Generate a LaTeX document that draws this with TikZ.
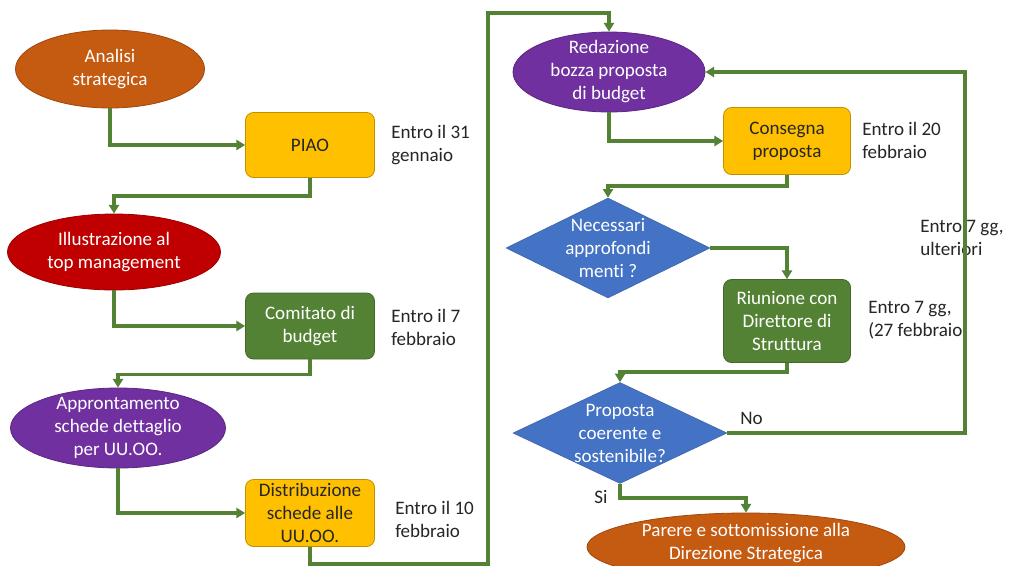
\documentclass[tikz,border=0pt]{standalone}
\usepackage{fontspec}
\setmainfont{Carlito}[Ligatures=NoCommon]
\usetikzlibrary{shapes.geometric,arrows.meta}
\definecolor{cOrange}{HTML}{C55A11}
\definecolor{cRed}{HTML}{C00000}
\definecolor{cYellow}{HTML}{FFC000}
\definecolor{cGreen}{HTML}{548235}
\definecolor{cPurple}{HTML}{7030A0}
\definecolor{cBlue}{HTML}{4472C4}
\definecolor{cLine}{HTML}{548235}
\definecolor{cDark}{HTML}{262626}
\tikzset{
  txt/.style={font=\fontsize{14.3}{17.25}\selectfont},
  shapetext/.style={txt,align=center,text=white},
  ell/.style={ellipse,inner sep=0pt,line width=0.6pt},
  dia/.style={diamond,inner sep=0pt,fill=cBlue,draw=cBlue!85!black,line width=0.4pt},
  box/.style={rectangle,rounded corners=6pt,inner sep=2pt,align=center,
    minimum width=96.75pt,txt,line width=0.6pt},
  ybox/.style={box,fill=cYellow,draw=cYellow!75!black,text=cDark},
  gbox/.style={box,fill=cGreen,draw=cGreen!80!black,text=white},
  note/.style={txt,align=left,anchor=west,inner sep=0pt,text=cDark},
  conn/.style={draw=cLine,line width=2.6pt,-{Triangle[length=6.5pt,width=7.5pt]}},
}
\begin{document}
\begin{tikzpicture}[x=0.75pt,y=-0.75pt]
\useasboundingbox (0,0) rectangle (1014,565);
\clip (0,0) rectangle (1014,565);
\fill[white] (0,0) rectangle (1014,565);
% left column
\node[ell,fill=cOrange,draw=cOrange!80!black,minimum width=141.75pt,minimum height=58.5pt,
  label={[shapetext]center:Analisi\\strategica}] (analisi) at (110,69) {};
\node[ybox,minimum height=48.75pt] (piao) at (310,145) {PIAO};
\node[ell,fill=cRed,draw=cRed!80!black,minimum width=159.75pt,minimum height=57pt,
  label={[shapetext]center:Illustrazione al\\top management}] (illus) at (114,252) {};
\node[gbox,minimum height=49.5pt] (comitato) at (310,326) {Comitato di\\budget};
\node[ell,fill=cPurple,draw=cPurple!80!black,minimum width=161.25pt,minimum height=60pt,
  label={[shapetext]center:Approntamento\\schede dettaglio\\per UU.OO.}] (appr) at (118,428) {};
\node[ybox,minimum height=50.25pt] (distr) at (310,513) {Distribuzione\\schede alle\\UU.OO.};
% right column
\node[ell,fill=cPurple,draw=cPurple!80!black,minimum width=144pt,minimum height=60pt,
  label={[shapetext]center:Redazione\\bozza proposta\\di budget}] (redaz) at (609,72) {};
\node[ybox,minimum width=95.25pt,minimum height=50.25pt] (conseg) at (787,141) {Consegna\\proposta};
\node[dia,minimum width=153pt,minimum height=75pt,
  label={[shapetext]center:Necessari\\approfondi\\menti ?}] (neces) at (608,248) {};
\node[gbox,minimum width=95.25pt,minimum height=62.25pt] (riun) at (787,321) {Riunione con\\Direttore di\\Struttura};
\node[dia,minimum width=160.5pt,minimum height=75.75pt,
  label={[shapetext]center:Proposta\\coerente e\\sostenibile?}] (prop) at (620,433) {};
\node[ell,fill=cOrange,draw=cOrange!80!black,minimum width=238.5pt,minimum height=51pt] (parere) at (746,547) {};
\node[shapetext] (pareretxt) at (746,543) {Parere e sottomissione alla\\Direzione Strategica};
% notes
\node[note] (n1) at (391,145) {Entro il 31\\gennaio};
\node[note] (n2) at (391,327) {Entro il 7\\febbraio};
\node[note] (n3) at (395,519) {Entro il 10\\febbraio};
\node[note] (n4) at (862,140) {Entro il 20\\febbraio};
\node[note] (n5) at (868,320) {Entro 7 gg,\\(27 febbraio};
\node[note] (n6) at (920,238) {Entro 7 gg,\\ulteriori};
\node[note] (lno) at (740,418) {No};
\node[note] (lsi) at (594,497) {Si};
% coordinates
\coordinate (tl) at (488,13);
\coordinate (rx) at (965,72);
% connectors
\draw[conn] (analisi.south) |- (piao.west);
\draw[conn] (piao.south) -- ++(0,18) -| (illus.north);
\draw[conn] (illus.south) |- (comitato.west);
\draw[conn] (comitato.south) -- ++(0,15) -| (appr.north);
\draw[conn] (appr.south) |- (distr.west);
\draw[conn] (distr.south) -- ++(0,17) -| (tl) -| (redaz.north);
\draw[conn] (redaz.south) |- (conseg.west);
\draw[conn] (conseg.south) -- ++(0,11) -| (neces.north);
\draw[conn] (neces.east) -| (riun.north);
\draw[conn] (riun.south) -- ++(0,9) -| (prop.north);
\draw[conn] (prop.east) -| (rx) -- (redaz.east);
\draw[conn] (prop.south) -- ++(0,14) -| (parere.north);
\end{tikzpicture}
\end{document}
